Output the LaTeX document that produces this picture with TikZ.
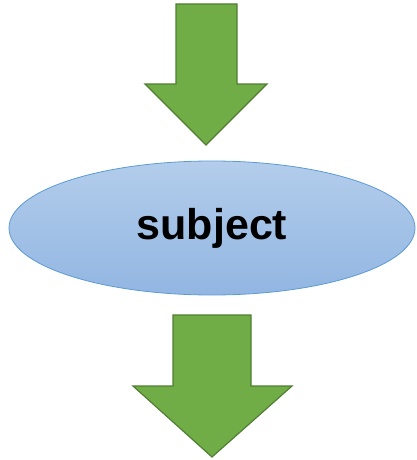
\documentclass[tikz,border=0pt]{standalone}
\usepackage{fontspec}
\setmainfont{Liberation Sans}
\usetikzlibrary{shapes.geometric}
\definecolor{arrowfill}{HTML}{70AD47}
\definecolor{arrowline}{HTML}{507E32}
\definecolor{ovaltop}{HTML}{B3CDEB}
\definecolor{ovalbottom}{HTML}{92B6E2}
\definecolor{ovalline}{HTML}{5B9BD5}
\tikzset{
  blockarrow/.style={fill=arrowfill, draw=arrowline, line width=1.2pt, line join=miter},
  subjectoval/.style={ellipse, draw=ovalline, line width=0.8pt, top color=ovaltop, bottom color=ovalbottom,
    minimum width=406pt, minimum height=134pt, inner sep=0pt, font=\fontsize{43}{50}\selectfont\bfseries}
}
\begin{document}
\begin{tikzpicture}[x=1pt,y=-1pt]
  \useasboundingbox (0,0) rectangle (416,460);

  % Drawing upper arrow
  \draw [blockarrow] (176,4) -- (237,4) -- (237,84) -- (267,84) -- (206,145) -- (145,84) -- (176,84) -- cycle;%

  % Marking subject by ellipse
  \node [subjectoval] (subject) at (212,228) {subject};%

  % Drawing lower arrow
  \draw [blockarrow] (173,315) -- (251,315) -- (251,386) -- (292,386) -- (212,457) -- (133,386) -- (173,386) -- cycle;%
\end{tikzpicture}
\end{document}
